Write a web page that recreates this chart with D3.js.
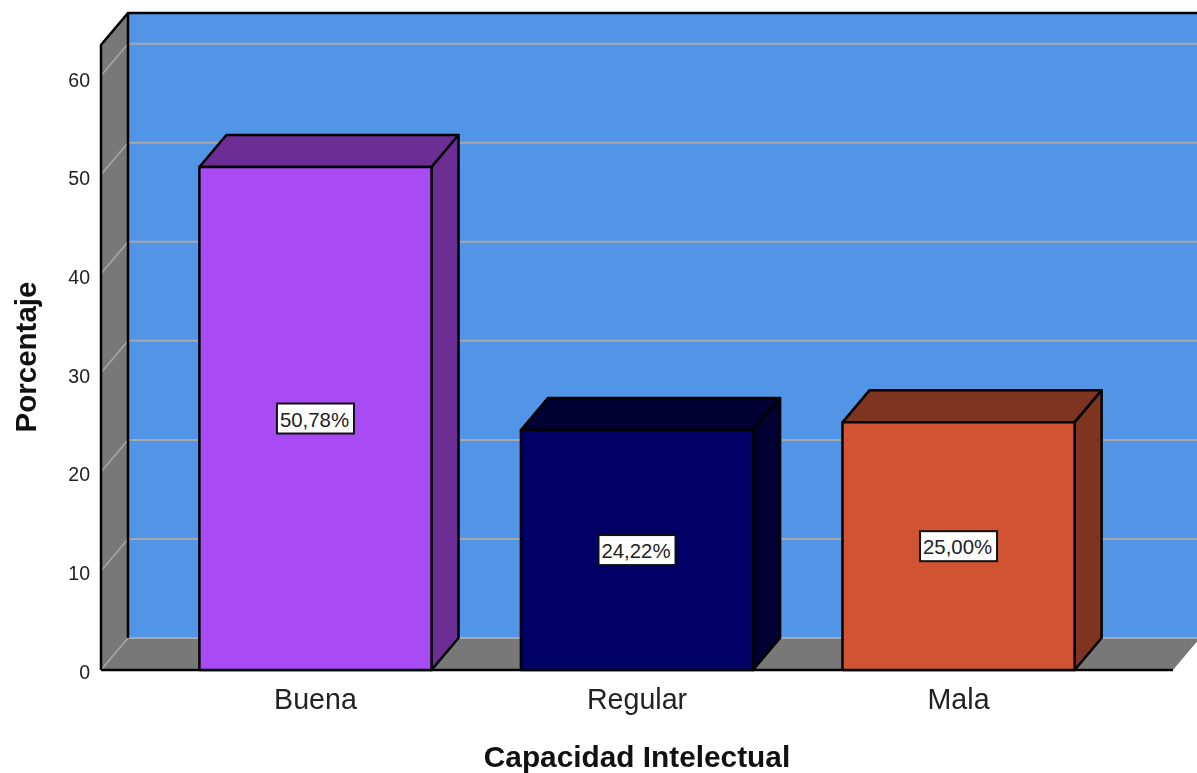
<!DOCTYPE html>
<html>
<head>
<meta charset="utf-8">
<script src="https://cdnjs.cloudflare.com/ajax/libs/d3/7.8.5/d3.min.js"></script>
<style>
html, body { margin:0; padding:0; background:#fff; overflow:hidden; }
svg { display:block; filter:blur(0.6px); }
text { font-family:"Liberation Sans", Arial, sans-serif; fill:#222; }
</style>
</head>
<body>
<svg></svg>
<script>
var categories = ["Buena","Regular","Mala"]
var percentages = [50.78,24.22,25.00]
var percentLabels = ["50,78%","24,22%","25,00%"]
var yTicks = [0,10,20,30,40,50,60]

var frontColors = ["#a94bf4","#000066","#d05432"]
var topColors = ["#6c2d94","#000033","#7f3420"]
var sideColors = ["#6c2d94","#000033","#7f3420"]

var screen = {width:1197,height:773}
var plot = {left:101,right:1173,bottom:670,top:44}
// how far the back wall is pushed from the front plane
var depth = {x:27,y:-32}

var svg = d3.select("svg")
    .attr("width",screen.width)
    .attr("height",screen.height)

var xScale = d3.scaleBand()
    .domain(categories)
    .range([plot.left,plot.right])
    .paddingInner(0.278)
    .paddingOuter(0.306)

var yScale = d3.scaleLinear()
    .domain([0,63.2])
    .range([plot.bottom,plot.top])

// the tick labels sit a little off the gridlines in the original
var yLabelScale = d3.scaleLinear()
    .domain([0,60])
    .range([672,80])

var pts = function(list)
{
    return list.map(function(p){return p.join(",")}).join(" ")
}

var yMax = 63.1
var backX = plot.left+depth.x
var backRight = plot.right+depth.x

// back wall
svg.append("rect")
    .attr("x",backX)
    .attr("y",yScale(yMax)+depth.y)
    .attr("width",backRight-backX)
    .attr("height",plot.bottom-yScale(yMax))
    .attr("fill","#5294e6")

// left wall
svg.append("polygon")
    .attr("points",pts([[plot.left,yScale(yMax)],[backX,yScale(yMax)+depth.y],[backX,plot.bottom+depth.y],[plot.left,plot.bottom]]))
    .attr("fill","#787878")

// floor
svg.append("polygon")
    .attr("points",pts([[plot.left,plot.bottom],[backX,plot.bottom+depth.y],[backRight,plot.bottom+depth.y],[plot.right,plot.bottom]]))
    .attr("fill","#787878")

// gridlines, back wall and down the left wall
var grid = svg.append("g").attr("id","grid")
grid.selectAll(".back")
    .data(yTicks)
    .enter()
    .append("line")
    .attr("class","back")
    .attr("x1",backX)
    .attr("x2",backRight)
    .attr("y1",function(d){return yScale(d)+depth.y})
    .attr("y2",function(d){return yScale(d)+depth.y})
    .attr("stroke","#a8a8a8")
    .attr("stroke-width",2)
grid.selectAll(".side")
    .data(yTicks)
    .enter()
    .append("line")
    .attr("class","side")
    .attr("x1",plot.left)
    .attr("x2",backX)
    .attr("y1",function(d){return yScale(d)})
    .attr("y2",function(d){return yScale(d)+depth.y})
    .attr("stroke","#a8a8a8")
    .attr("stroke-width",1.5)

// frame edges
var edges = svg.append("g").attr("stroke","#000").attr("stroke-width",2.5).attr("fill","none")
edges.append("polyline")
    .attr("points",pts([[plot.left,plot.bottom],[plot.left,yScale(yMax)],[backX,yScale(yMax)+depth.y],[backRight,yScale(yMax)+depth.y]]))
edges.append("line")
    .attr("x1",backX).attr("x2",backX)
    .attr("y1",yScale(yMax)+depth.y).attr("y2",plot.bottom+depth.y)
edges.append("line")
    .attr("x1",plot.left).attr("x2",plot.right)
    .attr("y1",plot.bottom).attr("y2",plot.bottom)

// bars
var bars = svg.selectAll(".bar")
    .data(categories)
    .enter()
    .append("g")
    .attr("class","bar")
    .attr("stroke","#000")
    .attr("stroke-width",2.5)
    .attr("stroke-linejoin","round")

bars.append("polygon")
    .attr("points",function(d,i){
        var x0 = xScale(d), x1 = x0+xScale.bandwidth(), y = yScale(percentages[i])
        return pts([[x0,y],[x0+depth.x,y+depth.y],[x1+depth.x,y+depth.y],[x1,y]])
    })
    .attr("fill",function(d,i){return topColors[i]})

bars.append("polygon")
    .attr("points",function(d,i){
        var x1 = xScale(d)+xScale.bandwidth(), y = yScale(percentages[i])
        return pts([[x1,y],[x1+depth.x,y+depth.y],[x1+depth.x,plot.bottom+depth.y],[x1,plot.bottom]])
    })
    .attr("fill",function(d,i){return sideColors[i]})

bars.append("rect")
    .attr("x",function(d){return xScale(d)})
    .attr("y",function(d,i){return yScale(percentages[i])})
    .attr("width",xScale.bandwidth())
    .attr("height",function(d,i){return plot.bottom-yScale(percentages[i])})
    .attr("fill",function(d,i){return frontColors[i]})

// value labels
var labels = svg.selectAll(".value")
    .data(categories)
    .enter()
    .append("g")
    .attr("class","value")
    .attr("transform",function(d,i){
        var cx = xScale(d)+xScale.bandwidth()/2
        var cy = (yScale(percentages[i])+plot.bottom)/2
        return "translate("+cx+","+cy+")"
    })
labels.append("rect")
    .attr("x",-38.5)
    .attr("y",-15)
    .attr("width",77)
    .attr("height",30)
    .attr("fill","#fff")
    .attr("stroke","#111")
    .attr("stroke-width",2)
labels.append("text")
    .attr("text-anchor","middle")
    .attr("x",-1)
    .attr("y",8)
    .attr("font-size",20.4)
    .text(function(d,i){return percentLabels[i]})

// axes
var yAxis = d3.axisLeft(yLabelScale).tickValues(yTicks).tickSize(0).tickPadding(11)
var yG = svg.append("g")
    .attr("transform","translate("+plot.left+",0)")
    .call(yAxis)
yG.select(".domain").remove()
yG.selectAll("text").attr("font-size",19.5).style("font-family",'"Liberation Sans", Arial, sans-serif').style("fill","#222")

var xAxis = d3.axisBottom(xScale).tickSize(0).tickPadding(19)
var xG = svg.append("g")
    .attr("transform","translate(0,"+plot.bottom+")")
    .call(xAxis)
xG.select(".domain").remove()
xG.selectAll("text").attr("font-size",28.6).style("font-family",'"Liberation Sans", Arial, sans-serif').style("fill","#222")

svg.append("text")
    .attr("transform","translate(36,357) rotate(-90)")
    .attr("text-anchor","middle")
    .attr("font-size",29.5)
    .attr("font-weight","bold")
    .style("fill","#111")
    .text("Porcentaje")

svg.append("text")
    .attr("x",637)
    .attr("y",767)
    .attr("text-anchor","middle")
    .attr("font-size",29.8)
    .attr("font-weight","bold")
    .style("fill","#111")
    .text("Capacidad Intelectual")
</script>
</body>
</html>
